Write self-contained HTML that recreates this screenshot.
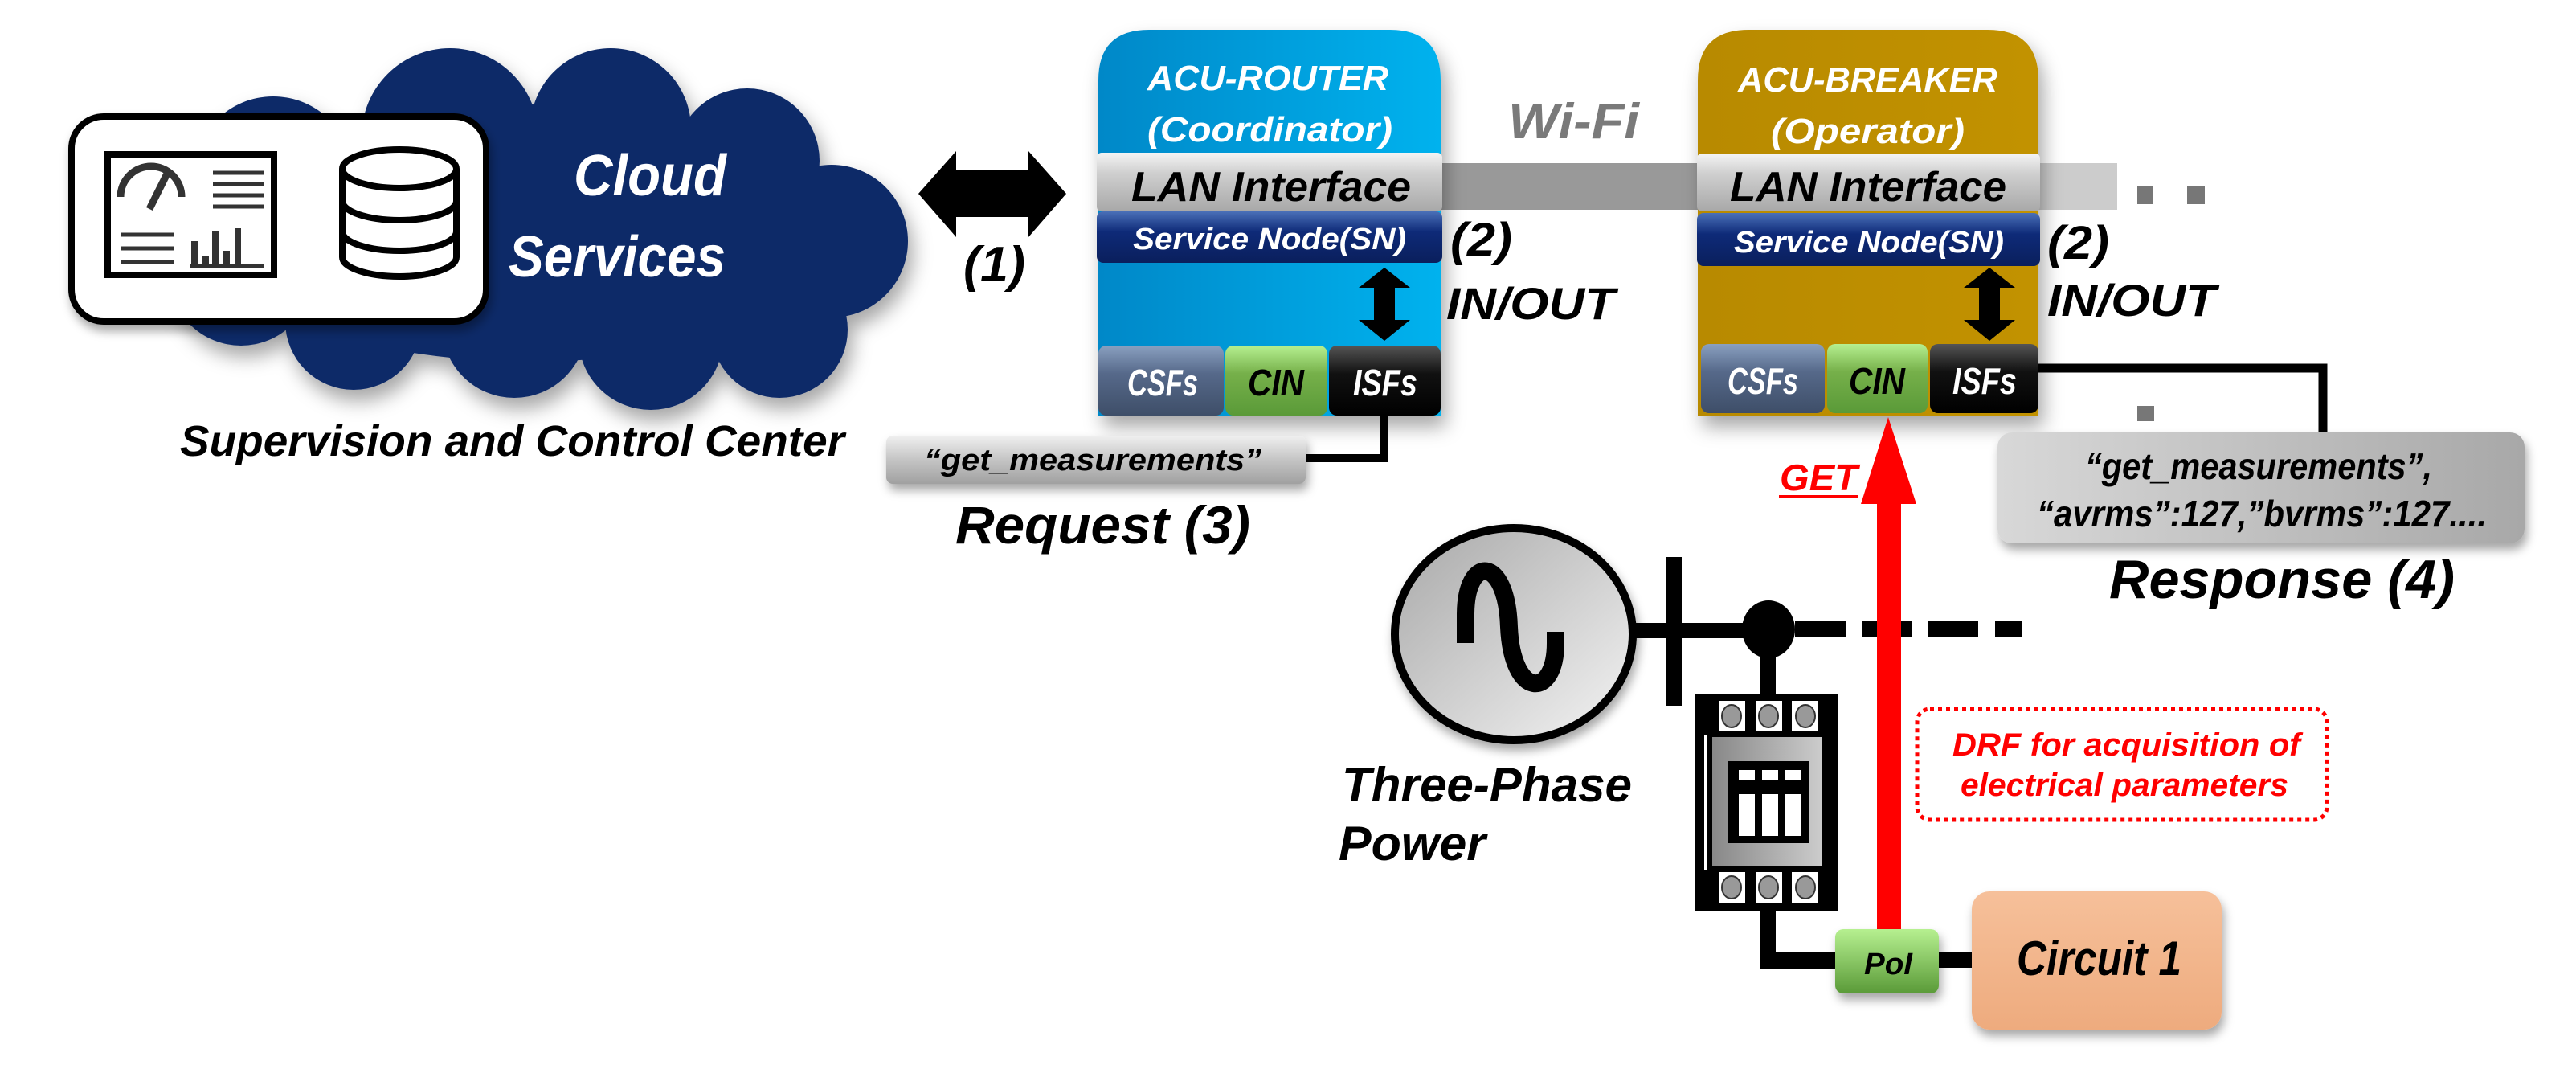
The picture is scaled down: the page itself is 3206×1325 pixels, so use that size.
<!DOCTYPE html>
<html><head><meta charset="utf-8"><style>
html,body{margin:0;padding:0;background:#fff;}
svg{display:block;}
text{font-family:"Liberation Sans",sans-serif;font-weight:bold;font-style:italic;}
</style></head><body>
<svg width="3206" height="1325" viewBox="0 0 3206 1325" xmlns="http://www.w3.org/2000/svg">
<defs>
<filter id="sh" x="-20%" y="-20%" width="140%" height="150%"><feDropShadow dx="6" dy="14" stdDeviation="12" flood-color="#000" flood-opacity="0.35"/></filter>
<filter id="sh2" x="-20%" y="-20%" width="140%" height="160%"><feDropShadow dx="3" dy="8" stdDeviation="6" flood-color="#000" flood-opacity="0.35"/></filter>
<linearGradient id="blue" x1="0" y1="0" x2="1" y2="0"><stop offset="0" stop-color="#0088c8"/><stop offset="1" stop-color="#00b2ee"/></linearGradient>
<linearGradient id="gold" x1="0" y1="0" x2="1" y2="0"><stop offset="0" stop-color="#b88a00"/><stop offset="1" stop-color="#c29200"/></linearGradient>
<linearGradient id="lan" x1="0" y1="0" x2="0" y2="1"><stop offset="0" stop-color="#f4f4f4"/><stop offset="0.35" stop-color="#cfcfcf"/><stop offset="1" stop-color="#a8a8a8"/></linearGradient>
<linearGradient id="sn" x1="0" y1="0" x2="0" y2="1"><stop offset="0" stop-color="#4a70b8"/><stop offset="0.4" stop-color="#0e2a78"/><stop offset="1" stop-color="#0a1f5c"/></linearGradient>
<linearGradient id="csf" x1="0" y1="0" x2="0" y2="1"><stop offset="0" stop-color="#8aa0c0"/><stop offset="0.4" stop-color="#56698a"/><stop offset="1" stop-color="#3e4e68"/></linearGradient>
<linearGradient id="cin" x1="0" y1="0" x2="0" y2="1"><stop offset="0" stop-color="#b6f090"/><stop offset="0.4" stop-color="#76b04a"/><stop offset="1" stop-color="#5a9a38"/></linearGradient>
<linearGradient id="isf" x1="0" y1="0" x2="0" y2="1"><stop offset="0" stop-color="#555"/><stop offset="0.4" stop-color="#111"/><stop offset="1" stop-color="#000"/></linearGradient>
<linearGradient id="msg" x1="0" y1="0" x2="0" y2="1"><stop offset="0" stop-color="#f0f0f0"/><stop offset="0.5" stop-color="#c4c4c4"/><stop offset="1" stop-color="#a0a0a0"/></linearGradient>
<linearGradient id="resp" x1="0" y1="0" x2="1" y2="0"><stop offset="0" stop-color="#d8d8d8"/><stop offset="1" stop-color="#a8a8a8"/></linearGradient>
<linearGradient id="pea" x1="0" y1="0" x2="0" y2="1"><stop offset="0" stop-color="#f6c09a"/><stop offset="1" stop-color="#eeab7e"/></linearGradient>
<linearGradient id="gen" x1="0" y1="0" x2="1" y2="1"><stop offset="0" stop-color="#a8a8a8"/><stop offset="1" stop-color="#f4f4f4"/></linearGradient>
<linearGradient id="brk" x1="0" y1="0" x2="1" y2="0"><stop offset="0" stop-color="#888"/><stop offset="1" stop-color="#ccc"/></linearGradient>
<linearGradient id="poi" x1="0" y1="0" x2="0" y2="1"><stop offset="0" stop-color="#b6f090"/><stop offset="1" stop-color="#5a9a38"/></linearGradient>
</defs>

<!-- Cloud -->
<g filter="url(#sh)" fill="#0f2a68">
<ellipse cx="660" cy="290" rx="400" ry="160"/>
<circle cx="340" cy="220" r="100"/>
<circle cx="560" cy="170" r="110"/>
<circle cx="760" cy="160" r="100"/>
<circle cx="930" cy="200" r="90"/>
<circle cx="1035" cy="300" r="95"/>
<circle cx="970" cy="410" r="85"/>
<circle cx="810" cy="420" r="90"/>
<circle cx="640" cy="405" r="90"/>
<circle cx="440" cy="400" r="85"/>
<circle cx="300" cy="340" r="90"/>
</g>
<rect x="89" y="145" width="516" height="255" rx="40" fill="#fff" stroke="#000" stroke-width="8" filter="url(#sh2)"/>
<!-- dashboard -->
<rect x="130" y="188" width="215" height="158" fill="#000"/>
<rect x="138" y="196" width="199" height="142" fill="#fff"/>
<path d="M150,245 A38,38 0 0 1 226,245" fill="none" stroke="#333" stroke-width="9"/>
<path d="M186,260 L210,212" stroke="#333" stroke-width="9"/>
<g stroke="#333" stroke-width="5"><line x1="265" y1="215" x2="328" y2="215"/><line x1="265" y1="229" x2="328" y2="229"/><line x1="265" y1="243" x2="328" y2="243"/><line x1="265" y1="257" x2="328" y2="257"/>
<line x1="150" y1="292" x2="217" y2="292"/><line x1="150" y1="309" x2="217" y2="309"/><line x1="150" y1="326" x2="217" y2="326"/></g>
<g fill="#333"><rect x="238" y="300" width="8" height="30"/><rect x="252" y="318" width="8" height="12"/><rect x="264" y="288" width="8" height="42"/><rect x="278" y="312" width="8" height="18"/><rect x="292" y="284" width="8" height="46"/><rect x="236" y="328" width="92" height="5"/></g>
<!-- database -->
<g fill="#fff" stroke="#000" stroke-width="8">
<path d="M426,210 L426,320 A71,24 0 0 0 568,320 L568,210"/>
<ellipse cx="497" cy="210" rx="71" ry="24"/>
<path d="M426,250 A71,24 0 0 0 568,250" fill="none"/>
<path d="M426,288 A71,24 0 0 0 568,288" fill="none"/>
</g>
<text x="714" y="243" font-size="72" fill="#fff" textLength="190" lengthAdjust="spacingAndGlyphs">Cloud</text>
<text x="633" y="344" font-size="72" fill="#fff" textLength="270" lengthAdjust="spacingAndGlyphs">Services</text>
<text x="224" y="567" font-size="54" fill="#000" textLength="827" lengthAdjust="spacingAndGlyphs">Supervision and Control Center</text>

<!-- arrow (1) -->
<polygon points="1143,241 1190,188 1190,212 1280,212 1280,188 1327,241 1280,295 1280,270 1190,270 1190,295" fill="#000"/>
<text x="1199" y="350" font-size="62" fill="#000" textLength="77" lengthAdjust="spacingAndGlyphs">(1)</text>

<!-- Wi-Fi wires -->
<rect x="1790" y="203" width="325" height="58" fill="#999"/>
<rect x="2535" y="203" width="100" height="58" fill="#ccc"/>
<rect x="2660" y="232" width="20" height="22" fill="#777"/>
<rect x="2722" y="232" width="22" height="22" fill="#777"/>
<rect x="2660" y="505" width="21" height="19" fill="#777"/>
<text x="1877" y="172" font-size="62" fill="#7a7a7a" textLength="163" lengthAdjust="spacingAndGlyphs">Wi-Fi</text>

<!-- Router -->
<g filter="url(#sh)">
<path d="M1367,517 L1367,100 Q1367,37 1430,37 L1730,37 Q1793,37 1793,100 L1793,517 Z" fill="url(#blue)"/>
</g>
<text x="1428" y="112" font-size="44" fill="#fff" textLength="300" lengthAdjust="spacingAndGlyphs">ACU-ROUTER</text>
<text x="1428" y="176" font-size="44" fill="#fff" textLength="305" lengthAdjust="spacingAndGlyphs">(Coordinator)</text>
<rect x="1365" y="190" width="430" height="73" rx="6" fill="url(#lan)"/>
<text x="1408" y="250" font-size="52" fill="#000" textLength="348" lengthAdjust="spacingAndGlyphs">LAN Interface</text>
<rect x="1365" y="263" width="430" height="64" rx="8" fill="url(#sn)"/>
<text x="1410" y="310" font-size="38" fill="#fff" textLength="340" lengthAdjust="spacingAndGlyphs">Service Node(SN)</text>
<polygon points="1723,333 1755,358 1736,358 1736,398 1755,398 1723,424 1691,398 1710,398 1710,358 1691,358" fill="#000"/>
<rect x="1367" y="430" width="156" height="87" rx="10" fill="url(#csf)"/>
<rect x="1525" y="430" width="127" height="87" rx="10" fill="url(#cin)"/>
<rect x="1654" y="430" width="139" height="87" rx="10" fill="url(#isf)"/>
<text x="1403" y="492" font-size="46" fill="#fff" textLength="88" lengthAdjust="spacingAndGlyphs">CSFs</text>
<text x="1553" y="492" font-size="46" fill="#000" textLength="70" lengthAdjust="spacingAndGlyphs">CIN</text>
<text x="1684" y="492" font-size="46" fill="#fff" textLength="80" lengthAdjust="spacingAndGlyphs">ISFs</text>
<text x="1805" y="318" font-size="58" fill="#000" textLength="77" lengthAdjust="spacingAndGlyphs">(2)</text>
<text x="1800" y="397" font-size="56" fill="#000" textLength="210" lengthAdjust="spacingAndGlyphs">IN/OUT</text>

<!-- Breaker ACU -->
<g filter="url(#sh)">
<path d="M2113,517 L2113,100 Q2113,37 2176,37 L2474,37 Q2537,37 2537,100 L2537,517 Z" fill="url(#gold)"/>
</g>
<text x="2163" y="114" font-size="44" fill="#fff" textLength="323" lengthAdjust="spacingAndGlyphs">ACU-BREAKER</text>
<text x="2204" y="178" font-size="44" fill="#fff" textLength="241" lengthAdjust="spacingAndGlyphs">(Operator)</text>
<rect x="2112" y="191" width="427" height="72" rx="6" fill="url(#lan)"/>
<text x="2153" y="250" font-size="52" fill="#000" textLength="344" lengthAdjust="spacingAndGlyphs">LAN Interface</text>
<rect x="2112" y="265" width="427" height="66" rx="8" fill="url(#sn)"/>
<text x="2158" y="314" font-size="38" fill="#fff" textLength="336" lengthAdjust="spacingAndGlyphs">Service Node(SN)</text>
<polygon points="2476,333 2508,358 2489,358 2489,398 2508,398 2476,424 2444,398 2463,398 2463,358 2444,358" fill="#000"/>
<rect x="2117" y="428" width="154" height="86" rx="10" fill="url(#csf)"/>
<rect x="2274" y="428" width="125" height="86" rx="10" fill="url(#cin)"/>
<rect x="2402" y="428" width="135" height="86" rx="10" fill="url(#isf)"/>
<text x="2150" y="490" font-size="46" fill="#fff" textLength="88" lengthAdjust="spacingAndGlyphs">CSFs</text>
<text x="2301" y="490" font-size="46" fill="#000" textLength="70" lengthAdjust="spacingAndGlyphs">CIN</text>
<text x="2430" y="490" font-size="46" fill="#fff" textLength="80" lengthAdjust="spacingAndGlyphs">ISFs</text>
<text x="2548" y="322" font-size="58" fill="#000" textLength="77" lengthAdjust="spacingAndGlyphs">(2)</text>
<text x="2548" y="393" font-size="56" fill="#000" textLength="210" lengthAdjust="spacingAndGlyphs">IN/OUT</text>

<!-- Request -->
<polyline points="1723,517 1723,570 1620,570" fill="none" stroke="#000" stroke-width="10"/>
<rect x="1103" y="542" width="522" height="60" rx="8" fill="url(#msg)" filter="url(#sh2)"/>
<text x="1150" y="585" font-size="38" fill="#000" textLength="420" lengthAdjust="spacingAndGlyphs">“get_measurements”</text>
<text x="1189" y="676" font-size="66" fill="#000" textLength="367" lengthAdjust="spacingAndGlyphs">Request (3)</text>

<!-- Response -->
<polyline points="2537,458 2891,458 2891,540" fill="none" stroke="#000" stroke-width="11"/>
<rect x="2486" y="538" width="656" height="138" rx="18" fill="url(#resp)" filter="url(#sh2)"/>
<text x="2595" y="596" font-size="46" fill="#000" textLength="432" lengthAdjust="spacingAndGlyphs">“get_measurements”,</text>
<text x="2535" y="655" font-size="46" fill="#000" textLength="560" lengthAdjust="spacingAndGlyphs">“avrms”:127,”bvrms”:127....</text>
<text x="2625" y="744" font-size="68" fill="#000" textLength="430" lengthAdjust="spacingAndGlyphs">Response (4)</text>

<!-- GET -->
<text x="2215" y="610" font-size="46" fill="#ff0000" textLength="97" lengthAdjust="spacingAndGlyphs">GET</text>
<rect x="2214" y="616" width="99" height="4" fill="#ff0000"/>

<!-- power line -->
<ellipse cx="1884" cy="789" rx="148" ry="132" fill="url(#gen)" stroke="#000" stroke-width="10" filter="url(#sh2)"/>
<path d="M1824,800 L1824,765 C1824,690 1875,690 1878,780 C1882,870 1936,870 1936,800 L1936,786" fill="none" stroke="#000" stroke-width="22"/>
<rect x="2030" y="775" width="170" height="19" fill="#000"/>
<rect x="2073" y="693" width="20" height="185" fill="#000"/>
<ellipse cx="2201" cy="783" rx="33" ry="36" fill="#000"/>
<g fill="#000"><rect x="2234" y="773" width="63" height="19"/><rect x="2317" y="773" width="62" height="19"/><rect x="2400" y="773" width="62" height="19"/><rect x="2483" y="773" width="33" height="19"/></g>
<rect x="2190" y="815" width="20" height="50" fill="#000"/>
<!-- breaker device -->
<rect x="2110" y="863" width="178" height="270" fill="#000"/>
<g fill="#fff"><rect x="2139" y="872" width="33" height="37"/><rect x="2185" y="872" width="33" height="37"/><rect x="2230" y="872" width="33" height="37"/>
<rect x="2139" y="1085" width="33" height="39"/><rect x="2185" y="1085" width="33" height="39"/><rect x="2230" y="1085" width="33" height="39"/></g>
<g fill="#999" stroke="#333" stroke-width="2"><ellipse cx="2155" cy="891" rx="12" ry="14"/><ellipse cx="2201" cy="891" rx="12" ry="14"/><ellipse cx="2247" cy="891" rx="12" ry="14"/>
<ellipse cx="2155" cy="1104" rx="12" ry="14"/><ellipse cx="2201" cy="1104" rx="12" ry="14"/><ellipse cx="2247" cy="1104" rx="12" ry="14"/></g>
<rect x="2121" y="915" width="3" height="168" fill="#fff"/>
<rect x="2131" y="917" width="137" height="160" fill="url(#brk)"/>
<rect x="2151" y="947" width="100" height="102" fill="#000"/>
<g fill="#fff"><rect x="2164" y="958" width="20" height="13"/><rect x="2193" y="958" width="20" height="13"/><rect x="2222" y="958" width="20" height="13"/>
<rect x="2164" y="988" width="20" height="52"/><rect x="2193" y="988" width="20" height="52"/><rect x="2222" y="988" width="20" height="52"/></g>
<polyline points="2200,1133 2200,1195 2290,1195" fill="none" stroke="#000" stroke-width="20"/>
<rect x="2410" y="1184" width="48" height="20" fill="#000"/>

<!-- Red arrow -->
<rect x="2336" y="622" width="30" height="536" fill="#ff0000"/>
<polygon points="2350,519 2385,627 2316,627" fill="#ff0000"/>

<!-- PoI -->
<rect x="2284" y="1156" width="129" height="80" rx="10" fill="url(#poi)" filter="url(#sh2)"/>
<text x="2320" y="1212" font-size="38" fill="#000" textLength="60" lengthAdjust="spacingAndGlyphs">PoI</text>
<!-- Circuit -->
<rect x="2454" y="1109" width="311" height="172" rx="22" fill="url(#pea)" filter="url(#sh2)"/>
<text x="2510" y="1213" font-size="60" fill="#000" textLength="205" lengthAdjust="spacingAndGlyphs">Circuit 1</text>

<!-- DRF -->
<rect x="2386" y="882" width="510" height="138" rx="16" fill="#fff" stroke="#ff0000" stroke-width="5" stroke-dasharray="5,5"/>
<text x="2430" y="940" font-size="40" fill="#ff0000" textLength="433" lengthAdjust="spacingAndGlyphs">DRF for acquisition of</text>
<text x="2440" y="990" font-size="40" fill="#ff0000" textLength="408" lengthAdjust="spacingAndGlyphs">electrical parameters</text>

<text x="1670" y="997" font-size="60" fill="#000" textLength="361" lengthAdjust="spacingAndGlyphs">Three-Phase</text>
<text x="1666" y="1070" font-size="60" fill="#000" textLength="183" lengthAdjust="spacingAndGlyphs">Power</text>
</svg>
</body></html>
